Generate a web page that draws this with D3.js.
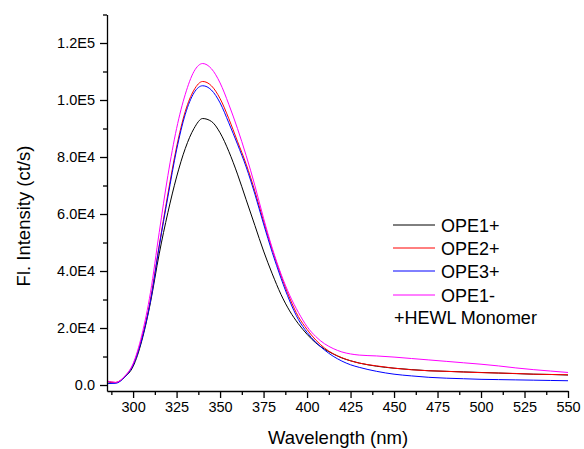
<!DOCTYPE html>
<html>
<head>
<meta charset="utf-8">
<script src="https://cdn.jsdelivr.net/npm/d3@7"></script>
<style>
  html, body { margin: 0; padding: 0; background: #fff; }
  svg { display: block; }
  text { font-family: Arial, "Liberation Sans", sans-serif; fill: #000; }
</style>
</head>
<body>
<svg id="chart" width="584" height="449"></svg>
<script>
// Emission wavelengths (nm)
const wavelength = [285,290,295,300,305,310,315,320,325,330,335,340,345,350,355,360,365,370,375,380,
  385,390,395,400,405,410,415,420,425,430,440,450,460,470,480,490,500,510,520,530,540,550];

// Fluorescence intensity (ct/s) for each probe with HEWL monomer
const ope1Plus = [1200,800,2700,6500,15500,29000,46000,60500,73000,83000,90000,93500,92500,88500,82000,74000,65000,56000,47000,39000,
  31800,26000,21500,17800,14800,12600,10900,9500,8500,7700,6600,5900,5400,5000,4800,4600,4400,4200,4000,3800,3700,3500];
const ope2Plus = [1300,900,2900,7200,16500,30000,49000,67000,83500,96000,103500,106500,105000,100500,93500,85500,77500,68000,57500,47500,
  38500,30500,24000,19500,15800,13000,11000,9600,8500,7700,6700,5900,5350,5000,4800,4550,4350,4200,4050,3800,3700,3600];
const ope3Plus = [500,600,2700,7000,16000,29500,48500,66000,82500,95000,102500,105000,103500,99000,92000,84500,76500,67000,56500,46500,
  37500,29500,23000,18500,15000,12300,10100,8400,7100,6200,4800,3800,3200,2700,2400,2200,2000,1900,1800,1700,1600,1500];
const ope1Minus = [1400,900,3000,7500,17500,32500,53500,73500,90000,102000,110000,112800,111000,106000,98500,90000,80500,70000,58500,48000,
  39000,31500,25500,20500,17000,14500,12800,11600,10900,10500,10200,9800,9300,8800,8300,7800,7300,6700,6000,5400,4900,4400];

const seriesNames = ["OPE1+", "OPE2+", "OPE3+", "OPE1-"];
const seriesColors = ["#000000", "#ff0000", "#0000ff", "#ff00ff"];
const seriesValues = [ope1Plus, ope2Plus, ope3Plus, ope1Minus];
const legendNote = "+HEWL Monomer";

// Axis ticks
const xMajorTicks = [300,325,350,375,400,425,450,475,500,525,550];
const xMinorTicks = [287.5,312.5,337.5,362.5,387.5,412.5,437.5,462.5,487.5,512.5,537.5];
const yMajorTicks = [0,20000,40000,60000,80000,100000,120000];
const yMinorTicks = [10000,30000,50000,70000,90000,110000,130000];

const svg = d3.select("#chart");
const x = d3.scaleLinear().domain([285, 550]).range([107, 568]);
const y = d3.scaleLinear().domain([-2100, 130000]).range([391, 14.5]);

const fmtY = v => v === 0 ? "0.0" : v.toExponential(1).toUpperCase().replace("+", "");

// Curves
const line = d3.line().x(d => x(d[0])).y(d => y(d[1])).curve(d3.curveMonotoneX);
seriesValues.forEach((vals, i) => {
  svg.append("path")
    .datum(wavelength.map((w, j) => [w, vals[j]]))
    .attr("d", line)
    .attr("fill", "none")
    .attr("stroke", seriesColors[i])
    .attr("stroke-width", 1);
});

// X axis
const gx = svg.append("g").attr("transform", "translate(0,391)");
gx.append("g").call(d3.axisBottom(x).tickValues(xMinorTicks).tickSize(4).tickFormat(""))
  .call(g => g.select(".domain").remove());
gx.append("g").call(d3.axisBottom(x).tickValues(xMajorTicks).tickSize(7).tickSizeOuter(0).tickPadding(4))
  .call(g => g.selectAll("text").attr("font-size", "14.5px").attr("font-family", "Arial, 'Liberation Sans', sans-serif"));
gx.selectAll("line, path").attr("stroke", "#000").attr("stroke-width", 1.3);

// Y axis
const gy = svg.append("g").attr("transform", "translate(107,0)");
gy.append("g").call(d3.axisLeft(y).tickValues(yMinorTicks).tickSize(4).tickFormat(""))
  .call(g => g.select(".domain").remove());
gy.append("g").call(d3.axisLeft(y).tickValues(yMajorTicks).tickSize(7).tickSizeOuter(0).tickPadding(5).tickFormat(fmtY))
  .call(g => g.selectAll("text").attr("font-size", "14.5px").attr("font-family", "Arial, 'Liberation Sans', sans-serif"));
gy.selectAll("line, path").attr("stroke", "#000").attr("stroke-width", 1.3);

// Axis titles
svg.append("text").attr("x", 338).attr("y", 444).attr("text-anchor", "middle")
  .attr("font-size", "18.5px").text("Wavelength (nm)");
svg.append("text").attr("transform", "translate(30,216) rotate(-90)").attr("text-anchor", "middle")
  .attr("font-size", "18.5px").text("Fl. Intensity (ct/s)");

// Legend
const legendRows = [225, 248, 271, 295];
seriesNames.forEach((name, i) => {
  const ly = legendRows[i];
  svg.append("line").attr("x1", 393).attr("x2", 435).attr("y1", ly).attr("y2", ly)
    .attr("stroke", seriesColors[i]).attr("stroke-width", 1);
  svg.append("text").attr("x", 441).attr("y", ly + 6.5).attr("font-size", "18px").text(name);
});
svg.append("text").attr("x", 394).attr("y", 323.5).attr("font-size", "18px").text(legendNote);
</script>
</body>
</html>
